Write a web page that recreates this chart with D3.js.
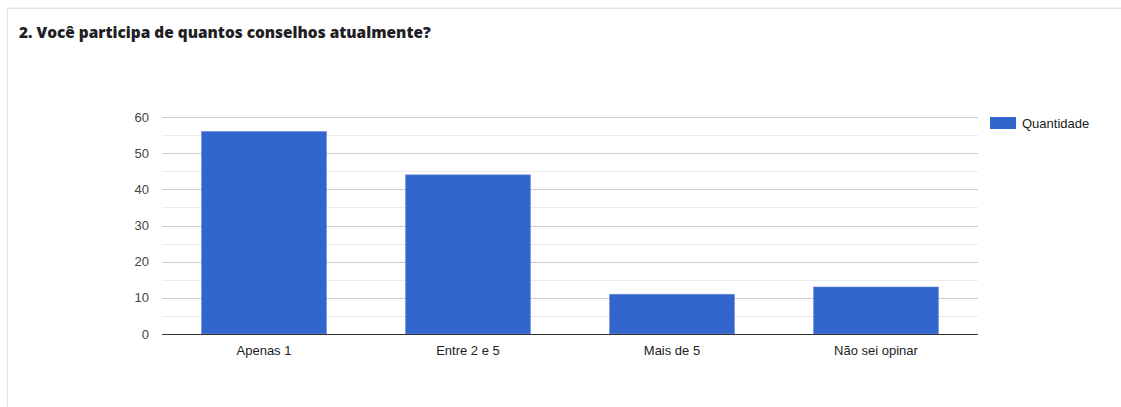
<!DOCTYPE html>
<html>
<head>
<meta charset="utf-8">
<script src="https://cdn.jsdelivr.net/npm/d3@7"></script>
<style>
body{margin:0;background:#fff;}
</style>
</head>
<body>
<div id="chart"></div>
<script>
// dados
var categorias = ["Apenas 1", "Entre 2 e 5", "Mais de 5", "Não sei opinar"]
var quantidade = [56, 44, 11, 13]
var ticksY = [0, 10, 20, 30, 40, 50, 60]
var ticksMenores = [5, 15, 25, 35, 45, 55]
var titulo = "2. Você participa de quantos conselhos atualmente?"
var legenda = "Quantidade"

var width = 1121
var height = 407
var svg = d3.select("#chart").append("svg")
    .attr("width", width)
    .attr("height", height)

// cartão
svg.append("rect")
    .attr("x", 7.5).attr("y", 8.5)
    .attr("width", 1130).attr("height", 420)
    .attr("fill", "#fff")
    .attr("stroke", "#e3e3e3")
svg.append("line")
    .attr("x1", 8).attr("x2", width).attr("y1", 7.5).attr("y2", 7.5)
    .attr("stroke", "#eef1f4")

svg.append("text")
    .attr("x", 19).attr("y", 38)
    .attr("font-family", "'Open Sans', sans-serif")
    .attr("font-weight", "800")
    .attr("font-size", 15.4)
    .attr("fill", "#1e1e24")
    .text(titulo)

var x = d3.scaleBand()
    .domain(categorias)
    .range([162, 978])
    .paddingInner(0.387)
    .paddingOuter(0.1935)

var y = d3.scaleLinear()
    .domain([0, 60])
    .range([334, 117])

// grade
svg.selectAll("line.menor")
    .data(ticksMenores)
    .join("line")
    .attr("class", "menor")
    .attr("x1", 162).attr("x2", 978)
    .attr("y1", d => Math.round(y(d)) + 0.5)
    .attr("y2", d => Math.round(y(d)) + 0.5)
    .attr("stroke", "#ebebeb")

svg.selectAll("line.maior")
    .data(ticksY.slice(1))
    .join("line")
    .attr("class", "maior")
    .attr("x1", 162).attr("x2", 978)
    .attr("y1", d => Math.round(y(d)) + 0.5)
    .attr("y2", d => Math.round(y(d)) + 0.5)
    .attr("stroke", "#cccccc")

svg.selectAll("text.ty")
    .data(ticksY)
    .join("text")
    .attr("class", "ty")
    .attr("x", 149)
    .attr("y", d => y(d) + 4.5)
    .attr("text-anchor", "end")
    .attr("font-family", "Arial, 'Liberation Sans', sans-serif")
    .attr("font-size", 13)
    .attr("fill", "#444")
    .text(d => d)

// barras
svg.selectAll("rect.barra")
    .data(quantidade)
    .join("rect")
    .attr("class", "barra")
    .attr("x", (d, i) => x(categorias[i]))
    .attr("width", x.bandwidth())
    .attr("y", d => y(d))
    .attr("height", d => y(0) - y(d))
    .attr("fill", "#3366cc")
    .attr("stroke", "#6f8fdb")
    .attr("stroke-width", 0.6)

svg.append("line")
    .attr("x1", 162).attr("x2", 978)
    .attr("y1", y(0) + 0.5).attr("y2", y(0) + 0.5)
    .attr("stroke", "#333")

svg.selectAll("text.tx")
    .data(categorias)
    .join("text")
    .attr("class", "tx")
    .attr("x", d => x(d) + x.bandwidth() / 2)
    .attr("y", 355)
    .attr("text-anchor", "middle")
    .attr("font-family", "Arial, 'Liberation Sans', sans-serif")
    .attr("font-size", 13)
    .attr("fill", "#222")
    .text(d => d)

// legenda
svg.append("rect")
    .attr("x", 990).attr("y", 117)
    .attr("width", 26).attr("height", 12)
    .attr("fill", "#3366cc")
svg.append("text")
    .attr("x", 1022).attr("y", 128)
    .attr("font-family", "Arial, 'Liberation Sans', sans-serif")
    .attr("font-size", 13)
    .attr("fill", "#222")
    .text(legenda)
</script>
</body>
</html>
